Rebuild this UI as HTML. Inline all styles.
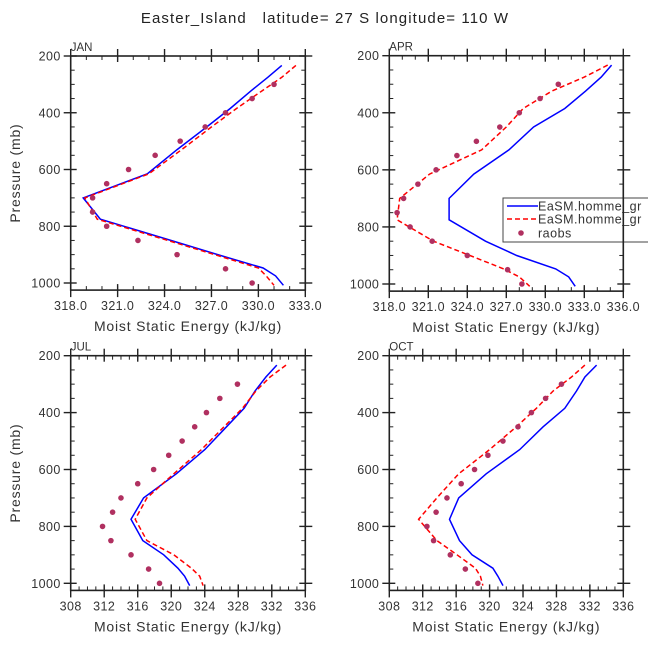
<!DOCTYPE html>
<html><head><meta charset="utf-8"><style>
body{margin:0;background:#fff;}
svg{display:block;font-family:"Liberation Sans",sans-serif;}
</style></head><body>
<svg id="fig" width="648" height="649" viewBox="0 0 648 649" xmlns="http://www.w3.org/2000/svg">
<text x="325" y="23" text-anchor="middle" font-size="15" fill="#222" letter-spacing="1.1" style="white-space:pre">Easter_Island   latitude= 27 S longitude= 110 W</text>
</svg>
<script>
const modelP = [233, 275, 324, 385, 450, 530, 615, 700, 775, 850, 900, 947, 975, 1008];
const obsP = [300, 350, 400, 450, 500, 550, 600, 650, 700, 750, 800, 850, 900, 950, 1000];
const janBlue = [331.5, 330.6, 329.5, 328.2, 326.7, 324.8, 322.9, 318.8, 319.9, 324.4, 327.4, 330.3, 331.1, 331.6];
const janRed = [332.4, 331.5, 330.2, 328.6, 327.0, 325.1, 323.0, 318.9, 319.7, 324.2, 327.2, 330.0, 330.5, 331.0];
const janObs = [331.0, 329.6, 327.9, 326.6, 325.0, 323.4, 321.7, 320.3, 319.4, 319.4, 320.3, 322.3, 324.8, 327.9, 329.6];
const aprBlue = [335.1, 334.3, 333.1, 331.5, 329.1, 327.2, 324.5, 322.6, 322.6, 325.4, 327.8, 330.8, 331.8, 332.3];
const aprRed = [334.8, 333.0, 330.5, 328.3, 327.0, 325.1, 321.1, 318.8, 318.6, 321.4, 324.2, 326.8, 328.0, 328.8];
const aprObs = [331.0, 329.6, 328.0, 326.5, 324.7, 323.2, 321.6, 320.2, 319.1, 318.6, 319.6, 321.3, 324.0, 327.1, 328.2];
const julBlue = [332.6, 331.3, 330.0, 328.7, 326.6, 324.0, 320.6, 316.7, 315.2, 316.6, 319.1, 320.8, 321.6, 322.2];
const julRed = [333.7, 331.8, 330.1, 328.5, 326.3, 323.6, 320.3, 317.1, 315.7, 317.1, 320.3, 322.4, 323.4, 323.8];
const julObs = [327.9, 325.8, 324.2, 322.8, 321.3, 319.7, 317.9, 316.0, 314.0, 313.0, 311.8, 312.8, 315.2, 317.3, 318.6];
const octBlue = [332.8, 331.4, 330.4, 329.0, 326.4, 323.6, 319.6, 316.3, 315.2, 316.4, 317.9, 320.4, 321.0, 321.6];
const octRed = [331.4, 329.8, 327.6, 325.6, 323.2, 320.0, 316.3, 313.7, 311.5, 313.7, 316.1, 318.3, 318.9, 319.2];
const octObs = [328.6, 326.7, 325.0, 323.4, 321.6, 319.8, 318.2, 316.6, 314.9, 313.6, 312.5, 313.3, 315.3, 317.1, 318.6];
const janXTicks = ["318.0","321.0","324.0","327.0","330.0","333.0"];
const aprXTicks = ["318.0","321.0","324.0","327.0","330.0","333.0","336.0"];
const lowXTicks = ["308","312","316","320","324","328","332","336"];
const yTicks = [200, 400, 600, 800, 1000];
const legendLabels = ["EaSM.homme_gr","EaSM.homme_gr","raobs"];

const NS = "http://www.w3.org/2000/svg";
const svg = document.getElementById('fig');
function mk(tag, attrs, parent){const e=document.createElementNS(NS,tag);for(const k in attrs)e.setAttribute(k,attrs[k]);(parent||svg).appendChild(e);return e;}

function panel(o){
  const g = mk('g',{});
  
  
  const xs = v => o.x0 + (v - o.xmin)/(o.xmax - o.xmin)*(o.x1 - o.x0);
  const ys = p => o.y0 + (p - 200)/(1000 - 200)*(o.y1000 - o.y0);
  const yb = ys(1025);
  for(let p=250;p<1025;p+=50){ if(p%200===0) continue; const y=ys(p);
    mk('line',{x1:o.x0,x2:o.x0+4,y1:y,y2:y,stroke:'#222','stroke-width':1},g);
    mk('line',{x1:o.x1,x2:o.x1-4,y1:y,y2:y,stroke:'#222','stroke-width':1},g);}
  for(let v=o.xmin+o.minor; v<o.xmax-1e-6; v+=o.minor){ const x=xs(v);
    mk('line',{x1:x,x2:x,y1:yb,y2:yb-4,stroke:'#222','stroke-width':1},g);
    mk('line',{x1:x,x2:x,y1:o.y0,y2:o.y0+4,stroke:'#222','stroke-width':1},g);}
  yTicks.forEach(p=>{const y=ys(p);
    mk('line',{x1:o.x0-7,x2:o.x0+6,y1:y,y2:y,stroke:'#222','stroke-width':1.4},g);
    mk('line',{x1:o.x1-6,x2:o.x1+7,y1:y,y2:y,stroke:'#222','stroke-width':1.4},g);
    const t=mk('text',{x:o.x0-10,y:y+4.5,'text-anchor':'end','font-size':12.5,fill:'#333','letter-spacing':'0.4'},g);
    t.textContent=p;
    
    });
  o.xt.forEach(s=>{const x=xs(parseFloat(s));
    mk('line',{x1:x,x2:x,y1:yb+7,y2:yb-6,stroke:'#222','stroke-width':1.4},g);
    mk('line',{x1:x,x2:x,y1:o.y0-7,y2:o.y0+6,stroke:'#222','stroke-width':1.4},g);
    const t=mk('text',{x:x,y:yb+20,'text-anchor':'middle','font-size':12.5,fill:'#333','letter-spacing':'0.4'},g);
    t.textContent=s;
    
    });
  const path = arr => arr.map((v,i)=>(i?'L':'M')+xs(v).toFixed(1)+' '+ys(modelP[i]).toFixed(1)).join(' ');
  const b=mk('path',{d:path(o.blue),fill:'none',stroke:'#0000ff','stroke-width':1.5},g);
  
  
  const r=mk('path',{d:path(o.red),fill:'none',stroke:'#ff0000','stroke-width':1.5,'stroke-dasharray':'5,3'},g);
  
  
  o.obs.forEach((v,i)=>{const c=mk('circle',{cx:xs(v),cy:ys(obsP[i]),r:2.8,fill:'#b03060'},g);
    
    });
  if(o.legend){
    const lg=mk('g',{},g);
    
    
    mk('rect',{x:503,y:198,width:160,height:44,fill:'#fff',stroke:'#444','stroke-width':1},lg);
    const rows=[206,219,233];
    mk('line',{x1:507,x2:538,y1:rows[0],y2:rows[0],stroke:'#0000ff','stroke-width':1.5},lg);
    mk('line',{x1:507,x2:538,y1:rows[1],y2:rows[1],stroke:'#ff0000','stroke-width':1.5,'stroke-dasharray':'5,3'},lg);
    mk('circle',{cx:521,cy:rows[2],r:2.8,fill:'#b03060'},lg);
    legendLabels.forEach((s,i)=>{const t=mk('text',{x:538,y:rows[i]+4.5,'font-size':12.5,fill:'#333','letter-spacing':'0.5'},lg);
      t.textContent=s;
      
      });
  }
  mk('rect',{x:o.x0,y:o.y0,width:o.x1-o.x0,height:yb-o.y0,fill:'none',stroke:'#222','stroke-width':1.6},g);
  const lab=mk('text',{x:o.x0,y:o.y0-5,'font-size':11.5,fill:'#333'},g);
  lab.textContent=o.label;
  
  
  const xt=mk('text',{x:(o.x0+o.x1)/2,y:yb+41,'text-anchor':'middle','font-size':14,fill:'#333','letter-spacing':'0.8'},g);
  xt.textContent='Moist Static Energy (kJ/kg)';
  
  
  if(o.ylab){const cy=(o.y0+yb)/2;
    const yt=mk('text',{x:20,y:cy,'text-anchor':'middle','font-size':14,fill:'#333','letter-spacing':'0.8',transform:'rotate(-90 20 '+cy+')'},g);
    yt.textContent='Pressure (mb)';
    
    }
}
panel({name:'jan',label:'JAN',x0:70.7,x1:305.3,y0:56,y1000:283,xmin:318,xmax:333,minor:1,xt:janXTicks,blue:janBlue,red:janRed,obs:janObs,ylab:true});
panel({name:'apr',label:'APR',x0:389.3,x1:623.3,y0:55.7,y1000:284,xmin:318,xmax:336,minor:1,xt:aprXTicks,blue:aprBlue,red:aprRed,obs:aprObs,legend:true});
panel({name:'jul',label:'JUL',x0:70.7,x1:305.3,y0:355.7,y1000:583.3,xmin:308,xmax:336,minor:1,xt:lowXTicks,blue:julBlue,red:julRed,obs:julObs,ylab:true});
panel({name:'oct',label:'OCT',x0:389.3,x1:623.3,y0:355.7,y1000:583.3,xmin:308,xmax:336,minor:1,xt:lowXTicks,blue:octBlue,red:octRed,obs:octObs});
</script>
</body></html>
